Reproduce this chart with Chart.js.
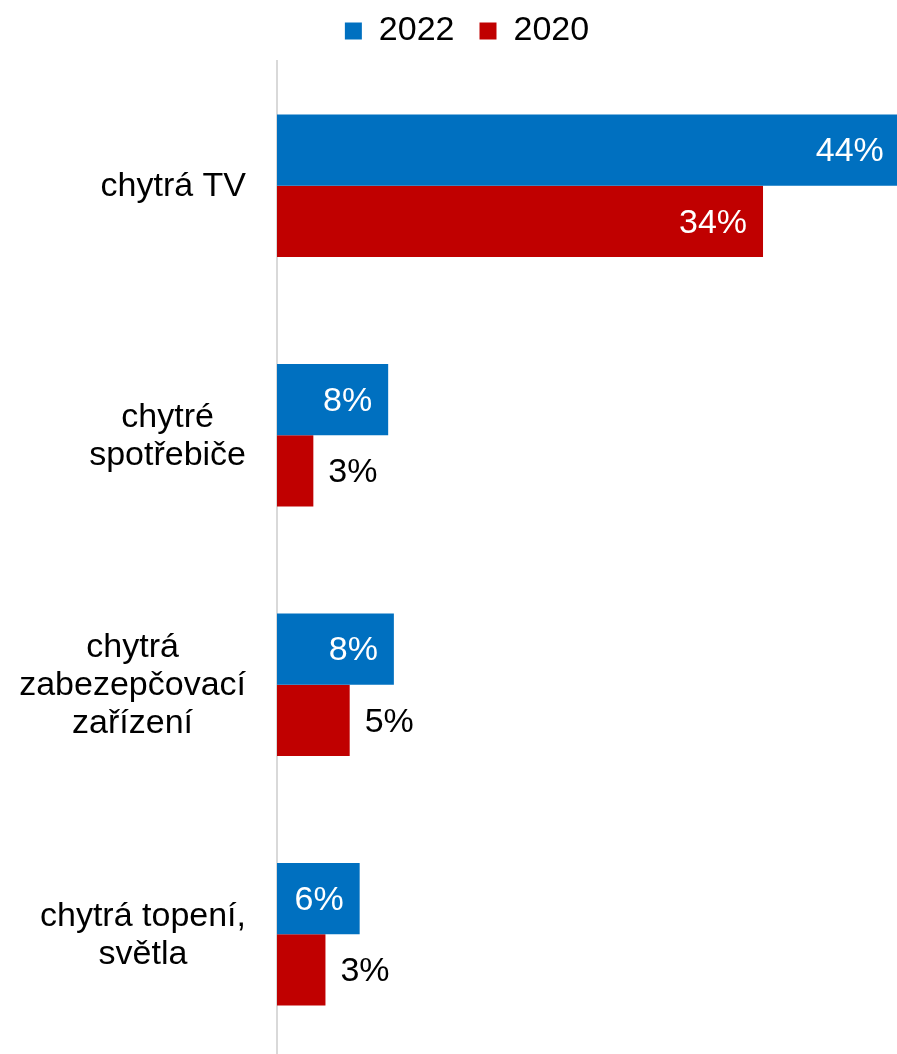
<!DOCTYPE html>
<html>
<head>
<meta charset="utf-8">
<script src="https://cdn.jsdelivr.net/npm/chart.js@4"></script>
<style>
  html, body { margin:0; padding:0; background:#fff; overflow:hidden; }
  #wrap { width:897px; height:1060px; position:relative; }
</style>
</head>
<body>
<div id="wrap"><canvas id="chart"></canvas></div>
<script>
// data
const categories = [['chytrá TV'], ['chytré', 'spotřebiče'], ['chytrá', 'zabezepčovací', 'zařízení'], ['chytrá topení,', 'světla']];
const seriesNames = ['2022', '2020'];
const values2022 = [43.7, 7.8, 8.2, 5.8];
const values2020 = [34.1, 2.55, 5.1, 3.4];
const xMax = 43.5;

const FONT = "'Liberation Sans', Arial, sans-serif";
Chart.defaults.font.family = FONT;
Chart.defaults.color = '#000';

// value labels: white inside the bar end, black outside for short bars
const barLabels = {
  id: 'barLabels',
  afterDatasetsDraw(chart) {
    const ctx = chart.ctx;
    ctx.save();
    ctx.font = '34px ' + FONT;
    ctx.textBaseline = 'middle';
    chart.data.datasets.forEach((ds, i) => {
      chart.getDatasetMeta(i).data.forEach((bar, j) => {
        const v = Math.round(ds.data[j]);
        if (v >= 6) {
          ctx.fillStyle = '#fff'; ctx.textAlign = 'right';
          ctx.fillText(v + '%', bar.x - 16, bar.y + 2);
        } else {
          ctx.fillStyle = '#000'; ctx.textAlign = 'left';
          ctx.fillText(v + '%', bar.x + 15, bar.y + 2);
        }
      });
    });
    ctx.restore();
  }
};

// category labels: each block right aligned, lines centred inside the block
const catLabels = {
  id: 'catLabels',
  afterDraw(chart) {
    const ctx = chart.ctx, y = chart.scales.y;
    const right = chart.chartArea.left - 31, lh = 38;
    ctx.save();
    ctx.font = '34px ' + FONT;
    ctx.fillStyle = '#000';
    ctx.textAlign = 'center';
    ctx.textBaseline = 'middle';
    categories.forEach((lines, i) => {
      const w = Math.max(...lines.map(l => ctx.measureText(l).width));
      const cx = right - w / 2;
      const cy = y.getPixelForValue(i) + 1;
      lines.forEach((l, k) => {
        ctx.fillText(l, cx, cy + (k - (lines.length - 1) / 2) * lh);
      });
    });
    ctx.restore();
  }
};

new Chart(document.getElementById('chart'), {
  type: 'bar',
  data: {
    labels: categories.map(c => c.join(' ')),
    datasets: [
      {label: seriesNames[0], data: values2022, backgroundColor: '#0070C0', borderWidth: 0, barPercentage: 1, categoryPercentage: 0.572},
      {label: seriesNames[1], data: values2020, backgroundColor: '#C00000', borderWidth: 0, barPercentage: 1, categoryPercentage: 0.572}
    ]
  },
  options: {
    indexAxis: 'y',
    responsive: true,
    maintainAspectRatio: false,
    animation: false,
    layout: {padding: {left: 37, right: 0, top: -11, bottom: 1}},
    plugins: {
      legend: {
        position: 'top',
        labels: {font: {size: 34}, color: '#000', boxWidth: 17, boxHeight: 17, padding: 25}
      },
      tooltip: {enabled: false}
    },
    scales: {
      x: {
        position: 'top', min: 0, max: xMax,
        grid: {display: false},
        border: {display: false},
        ticks: {display: false},
        afterFit: s => { s.height = 3; }
      },
      y: {
        grid: {display: false},
        border: {display: true, color: '#D9D9D9', width: 2},
        ticks: {display: false},
        afterFit: s => { s.width = 240; }
      }
    }
  },
  plugins: [barLabels, catLabels]
});
</script>
</body>
</html>
